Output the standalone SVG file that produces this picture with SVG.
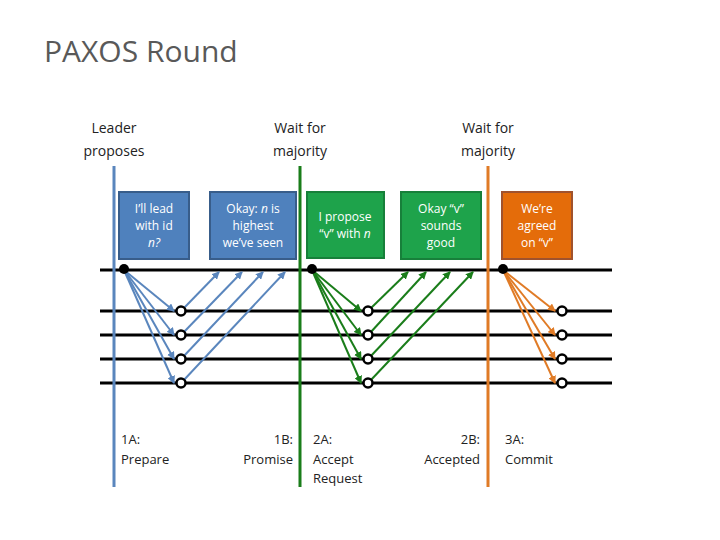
<svg xmlns="http://www.w3.org/2000/svg" width="720" height="540" viewBox="0 0 720 540">
<style>
text{font-family:"Open Sans","Liberation Sans",sans-serif}
.h{font-size:14px;fill:#222;text-anchor:middle}
.b{font-size:13px;fill:#222}
.bx{font-size:12px;fill:#fff;text-anchor:middle}
.tl{stroke:#000;stroke-width:3}
.ab{stroke:#5a86bd;stroke-width:2;fill:none;marker-end:url(#mb)}
.ag{stroke:#1a7d1a;stroke-width:2;fill:none;marker-end:url(#mg)}
.ao{stroke:#e07b26;stroke-width:2;fill:none;marker-end:url(#mo)}
.oc{fill:#fff;stroke:#000;stroke-width:2.5}
</style>
<defs>
<marker id="mb" markerWidth="8" markerHeight="8" refX="7" refY="4" orient="auto" markerUnits="userSpaceOnUse"><path d="M0,0L8,4L0,8z" fill="#5a86bd"/></marker>
<marker id="mg" markerWidth="8" markerHeight="8" refX="7" refY="4" orient="auto" markerUnits="userSpaceOnUse"><path d="M0,0L8,4L0,8z" fill="#1a7d1a"/></marker>
<marker id="mo" markerWidth="8" markerHeight="8" refX="7" refY="4" orient="auto" markerUnits="userSpaceOnUse"><path d="M0,0L8,4L0,8z" fill="#e07b26"/></marker>
</defs>
<rect width="720" height="540" fill="#fff"/>
<text x="44" y="62" font-size="30" fill="#595959">PAXOS Round</text>
<text class="h"><tspan x="114" y="133">Leader</tspan><tspan x="114" y="156">proposes</tspan></text>
<text class="h"><tspan x="300" y="133">Wait for</tspan><tspan x="300" y="156">majority</tspan></text>
<text class="h"><tspan x="488" y="133">Wait for</tspan><tspan x="488" y="156">majority</tspan></text>
<g id="timelines">
<line class="tl" x1="100" y1="270" x2="612" y2="270"/>
<line class="tl" x1="100" y1="311" x2="612" y2="311"/>
<line class="tl" x1="100" y1="335" x2="612" y2="335"/>
<line class="tl" x1="100" y1="359" x2="612" y2="359"/>
<line class="tl" x1="100" y1="383" x2="612" y2="383"/>
<line x1="114" y1="166" x2="114" y2="487" stroke="#5a86bd" stroke-width="3"/>
<line x1="300" y1="166" x2="300" y2="487" stroke="#1a7d1a" stroke-width="3"/>
<line x1="488" y1="166" x2="488" y2="487" stroke="#e07b26" stroke-width="3"/>
</g>
<g id="box1"><rect x="119" y="192" width="70" height="67" fill="#4f81bd" stroke="#385d8a" stroke-width="2"/><text class="bx"><tspan x="154" y="213">I’ll lead</tspan><tspan x="154" y="230">with id</tspan><tspan x="154" y="247" font-style="italic">n?</tspan></text></g>
<g id="box2"><rect x="210" y="192" width="86" height="67" fill="#4f81bd" stroke="#385d8a" stroke-width="2"/><text class="bx"><tspan x="253" y="213">Okay: <tspan font-style="italic">n</tspan> is</tspan><tspan x="253" y="230">highest</tspan><tspan x="253" y="247">we’ve seen</tspan></text></g>
<g id="box3"><rect x="307" y="192" width="77" height="66" fill="#1ea34b" stroke="#17803a" stroke-width="2"/><text class="bx"><tspan x="345" y="221">I propose</tspan><tspan x="345" y="238">“v” with <tspan font-style="italic">n</tspan></tspan></text></g>
<g id="box4"><rect x="401" y="192" width="80" height="67" fill="#1ea34b" stroke="#17803a" stroke-width="2"/><text class="bx"><tspan x="441" y="213">Okay “v”</tspan><tspan x="441" y="230">sounds</tspan><tspan x="441" y="247">good</tspan></text></g>
<g id="box5"><rect x="502" y="192" width="70" height="67" fill="#e46c0a" stroke="#a0522d" stroke-width="2"/><text class="bx"><tspan x="537" y="213">We’re</tspan><tspan x="537" y="230">agreed</tspan><tspan x="537" y="247">on “v”</tspan></text></g>
<g id="connectors">
<line class="ab" x1="124" y1="270" x2="174" y2="311"/><line class="ab" x1="124" y1="270" x2="174" y2="335"/><line class="ab" x1="124" y1="270" x2="174" y2="359"/><line class="ab" x1="124" y1="270" x2="174" y2="383"/>
<line class="ab" x1="183" y1="309" x2="219" y2="272"/><line class="ab" x1="183" y1="333" x2="242" y2="272"/><line class="ab" x1="183" y1="357" x2="263" y2="272"/><line class="ab" x1="183" y1="381" x2="285" y2="272"/>
<line class="ag" x1="312" y1="270" x2="361" y2="311"/><line class="ag" x1="312" y1="270" x2="361" y2="335"/><line class="ag" x1="312" y1="270" x2="361" y2="359"/><line class="ag" x1="312" y1="270" x2="361" y2="383"/>
<line class="ag" x1="370" y1="309" x2="408" y2="272"/><line class="ag" x1="370" y1="333" x2="426" y2="272"/><line class="ag" x1="370" y1="357" x2="450" y2="272"/><line class="ag" x1="370" y1="381" x2="473" y2="272"/>
<line class="ao" x1="503" y1="270" x2="555" y2="311"/><line class="ao" x1="503" y1="270" x2="555" y2="335"/><line class="ao" x1="503" y1="270" x2="555" y2="359"/><line class="ao" x1="503" y1="270" x2="555" y2="383"/>
</g>
<g id="dots">
<circle cx="124" cy="269" r="5" fill="#000"/><circle cx="312" cy="269" r="5" fill="#000"/><circle cx="503" cy="269" r="5" fill="#000"/>
<circle class="oc" cx="181" cy="311" r="4.5"/><circle class="oc" cx="181" cy="335" r="4.5"/><circle class="oc" cx="181" cy="359" r="4.5"/><circle class="oc" cx="181" cy="383" r="4.5"/>
<circle class="oc" cx="368" cy="311" r="4.5"/><circle class="oc" cx="368" cy="335" r="4.5"/><circle class="oc" cx="368" cy="359" r="4.5"/><circle class="oc" cx="368" cy="383" r="4.5"/>
<circle class="oc" cx="562" cy="311" r="4.5"/><circle class="oc" cx="562" cy="335" r="4.5"/><circle class="oc" cx="562" cy="359" r="4.5"/><circle class="oc" cx="562" cy="383" r="4.5"/>
</g>
<text class="b"><tspan x="121" y="444">1A:</tspan><tspan x="121" y="464">Prepare</tspan></text>
<text class="b" text-anchor="end"><tspan x="293" y="444">1B:</tspan><tspan x="293" y="464">Promise</tspan></text>
<text class="b"><tspan x="313" y="444">2A:</tspan><tspan x="313" y="464">Accept</tspan><tspan x="313" y="483">Request</tspan></text>
<text class="b" text-anchor="end"><tspan x="480" y="444">2B:</tspan><tspan x="480" y="464">Accepted</tspan></text>
<text class="b"><tspan x="505" y="444">3A:</tspan><tspan x="505" y="464">Commit</tspan></text>
</svg>
